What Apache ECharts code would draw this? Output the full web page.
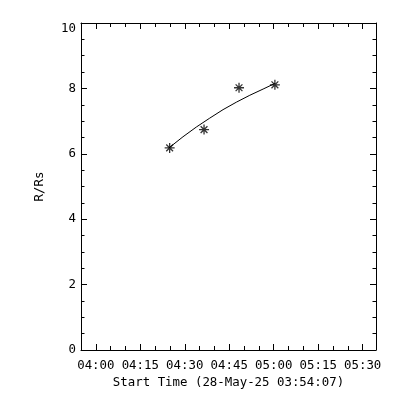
<!DOCTYPE html>
<html>
<head>
<meta charset="utf-8">
<script src="https://cdn.jsdelivr.net/npm/echarts@6/dist/echarts.min.js"></script>
<style>
html,body{margin:0;padding:0;background:#fff;}
#chart{width:400px;height:400px;}
</style>
</head>
<body>
<div id="chart"></div>
<script>
// minutes after 04:00 on 28-May-25
const timeLabels = ['04:00','04:15','04:30','04:45','05:00','05:15','05:30'];
const labelMinutes = [0,15,30,45,60,75,90];
const minorMinutes = [5,10,20,25,35,40,50,55,65,70,80,85];
const obsMinutes = [24.9, 36.5, 48.3, 60.4];
const obsR = [6.18, 6.74, 8.02, 8.11];
const fitMinutes = [24.66, 29.39, 33.92, 38.41, 42.91, 47.43, 51.93, 56.42, 60.37];
const fitR = [6.18, 6.52, 6.82, 7.09, 7.35, 7.58, 7.79, 7.98, 8.15];
const xTitle = 'Start Time (28-May-25 03:54:07)';
const yTitle = 'R/Rs';

const X_MIN = -5, X_MAX = 94.5;
const FONT = 'DejaVu Sans Mono';
const FS = 12.4;

function lab(v){ const i = labelMinutes.indexOf(v); return i >= 0 ? timeLabels[i] : ''; }

const base = {type:'value', min:X_MIN, max:X_MAX, splitLine:{show:false}};
const chart = echarts.init(document.getElementById('chart'), null, {renderer:'canvas'});
chart.setOption({
  backgroundColor:'#fff',
  animation:false,
  grid:{left:81, top:23, width:295, height:327, containLabel:false},
  xAxis:[
    Object.assign({}, base, {position:'bottom',
      axisLine:{show:true, onZero:false, lineStyle:{color:'#000', width:1}},
      axisTick:{show:true, inside:true, length:6, customValues:labelMinutes, lineStyle:{color:'#000'}},
      axisLabel:{show:true, customValues:labelMinutes, formatter:lab, margin:10, color:'#000', fontFamily:FONT, fontSize:FS},
      name:xTitle, nameLocation:'middle', nameGap:26,
      nameTextStyle:{color:'#000', fontFamily:FONT, fontSize:FS}}),
    Object.assign({}, base, {position:'bottom',
      axisLine:{show:false, onZero:false},
      axisTick:{show:true, inside:true, length:4, customValues:minorMinutes, lineStyle:{color:'#000'}},
      axisLabel:{show:false}}),
    Object.assign({}, base, {position:'top',
      axisLine:{show:true, onZero:false, lineStyle:{color:'#000', width:1}},
      axisTick:{show:true, inside:true, length:6, customValues:labelMinutes, lineStyle:{color:'#000'}},
      axisLabel:{show:false}}),
    Object.assign({}, base, {position:'top',
      axisLine:{show:false, onZero:false},
      axisTick:{show:true, inside:true, length:4, customValues:minorMinutes, lineStyle:{color:'#000'}},
      axisLabel:{show:false}})
  ],
  yAxis:[
    {type:'value', min:0, max:10, interval:2, position:'left',
      axisLine:{show:true, onZero:false, lineStyle:{color:'#000', width:1}},
      axisTick:{show:true, inside:true, length:6, lineStyle:{color:'#000'}},
      minorTick:{show:true, splitNumber:4, length:3.5, lineStyle:{color:'#000'}},
      splitLine:{show:false},
      axisLabel:{color:'#000', fontFamily:FONT, fontSize:FS, margin:5, verticalAlignMaxLabel:'top'},
      name:yTitle, nameLocation:'middle', nameGap:35, nameRotate:90,
      nameTextStyle:{color:'#000', fontFamily:FONT, fontSize:FS}},
    {type:'value', min:0, max:10, interval:2, position:'right',
      axisLine:{show:true, onZero:false, lineStyle:{color:'#000', width:1}},
      axisTick:{show:true, inside:true, length:6, lineStyle:{color:'#000'}},
      minorTick:{show:true, splitNumber:4, length:3.5, lineStyle:{color:'#000'}},
      splitLine:{show:false},
      axisLabel:{show:false}}
  ],
  series:[
    {type:'line', xAxisIndex:0, yAxisIndex:0, showSymbol:false, silent:true,
      lineStyle:{color:'#000', width:1}, smooth:false,
      data: fitMinutes.map((m,i)=>[m, fitR[i]])},
    {type:'scatter', xAxisIndex:0, yAxisIndex:0, silent:true,
      symbol:'path://M0,5L10,5M5,0L5,10M1.6,1.6L8.4,8.4M8.4,1.6L1.6,8.4',
      symbolSize:10,
      itemStyle:{color:'transparent', borderColor:'#000', borderWidth:1.3},
      data: obsMinutes.map((m,i)=>[m, obsR[i]])}
  ]
});
</script>
</body>
</html>
